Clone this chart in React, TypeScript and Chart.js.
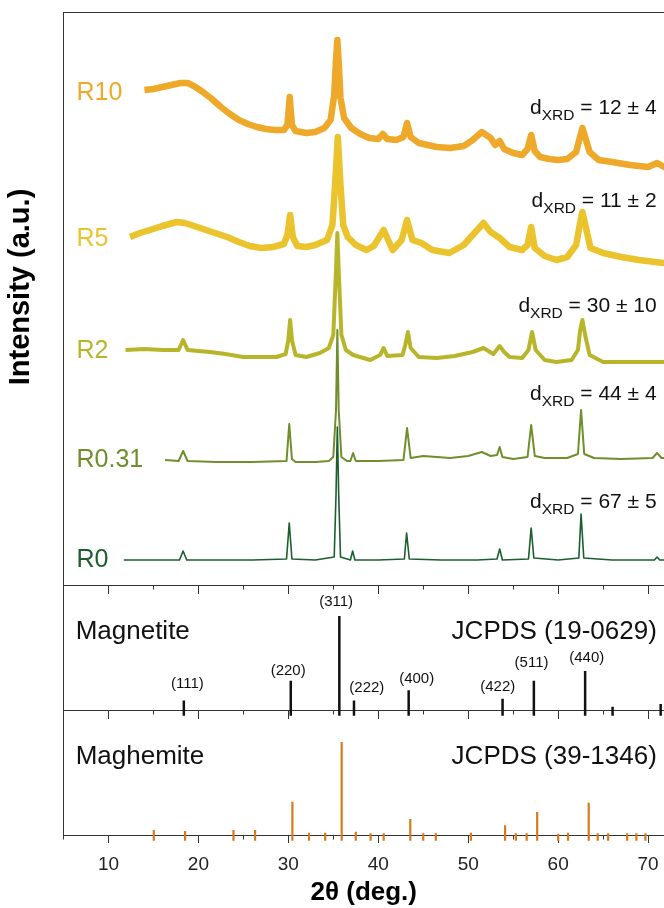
import React, { useEffect, useRef } from 'react';
import { Chart, registerables } from 'chart.js';

Chart.register(...registerables);

const FONT = "'Liberation Sans', Arial, Helvetica, sans-serif";

// ---------- XRD traces: [2θ (deg), intensity (a.u., vertical offset included)] ----------
const r10: [number, number][] = [
  [14.0, 495], [15.0, 496], [16.0, 498], [17.0, 500], [18.0, 502], [18.8, 502], [19.5, 499],
  [20.5, 493], [21.5, 486], [22.5, 478], [23.5, 471], [24.5, 465], [25.5, 461], [26.5, 458],
  [27.5, 456], [28.5, 455], [29.5, 455], [29.9, 460], [30.15, 488], [30.4, 460], [30.8, 454],
  [32.0, 452], [33.0, 453], [34.0, 457], [34.7, 465], [35.1, 490], [35.3, 525], [35.45, 545],
  [35.6, 523], [35.8, 487], [36.2, 467], [37.0, 457], [38.0, 451], [39.0, 447], [40.0, 446],
  [40.5, 451], [41.0, 446], [42.0, 445], [42.8, 448], [43.2, 462], [43.6, 448], [44.5, 442],
  [45.5, 440], [46.5, 438], [48.0, 437], [49.5, 439], [50.5, 445], [51.5, 453], [52.5, 447],
  [53.0, 440], [53.5, 444], [54.0, 436], [55.0, 432], [56.0, 430], [56.6, 436], [57.0, 450],
  [57.4, 434], [58.0, 428], [59.0, 426], [60.0, 425], [61.0, 426], [62.0, 433], [62.4, 447],
  [62.7, 457], [63.0, 448], [63.5, 433], [64.5, 425], [66.0, 423], [68.0, 420], [70.0, 418],
  [71.0, 422], [72.0, 417],
];
const r5: [number, number][] = [
  [12.4, 348], [13.5, 352], [14.6, 355], [16.0, 359], [17.6, 363], [18.5, 362], [20.2, 357],
  [21.5, 353], [23.2, 348], [24.5, 343], [25.7, 339], [27.0, 337], [28.3, 338], [29.5, 341],
  [29.9, 350], [30.2, 370], [30.5, 348], [31.0, 339], [32.0, 338], [33.0, 340], [34.3, 345],
  [34.9, 360], [35.2, 400], [35.5, 448], [35.8, 400], [36.1, 360], [36.6, 348], [37.5, 340],
  [38.7, 335], [39.5, 339], [40.6, 355], [41.6, 335], [42.6, 345], [43.2, 365], [43.8, 345],
  [44.8, 342], [46.0, 335], [47.9, 332], [49.5, 340], [50.5, 350], [51.7, 362], [52.5, 353],
  [53.5, 347], [54.6, 338], [56.0, 335], [56.6, 340], [57.0, 358], [57.4, 337], [58.5, 329],
  [59.8, 325], [61.0, 328], [62.0, 340], [62.4, 360], [62.7, 373], [63.1, 357], [63.6, 337],
  [65.0, 332], [67.0, 328], [69.0, 325], [71.7, 322], [72.0, 322],
];
const r2: [number, number][] = [
  [11.9, 235], [14.0, 236], [16.0, 235], [17.8, 235], [18.3, 245], [18.8, 235], [20.0, 234],
  [21.3, 233], [23.0, 231], [25.0, 228], [27.0, 228], [28.7, 228], [29.7, 231], [30.0, 245],
  [30.2, 265], [30.4, 245], [30.8, 230], [32.0, 228], [33.5, 232], [34.5, 237], [35.0, 250],
  [35.3, 315], [35.45, 352], [35.6, 315], [35.9, 250], [36.4, 235], [37.2, 230], [39.1, 225],
  [40.2, 230], [40.6, 237], [41.0, 229], [42.7, 230], [43.0, 240], [43.3, 253], [43.6, 237],
  [44.5, 228], [46.5, 227], [48.5, 229], [50.5, 233], [51.7, 237], [52.8, 231], [53.5, 239],
  [54.0, 233], [54.6, 228], [56.0, 227], [56.7, 235], [57.1, 253], [57.5, 235], [58.5, 225],
  [59.8, 223], [61.5, 225], [62.2, 235], [62.45, 255], [62.7, 265], [63.0, 250], [63.5, 230],
  [65.0, 223], [68.0, 223], [72.0, 223],
];
const r031: [number, number][] = [
  [16.3, 125], [17.8, 124], [18.3, 134], [18.8, 124], [22.0, 123], [26.0, 123], [29.8, 124],
  [30.1, 161], [30.4, 126], [30.8, 123], [33.0, 123], [34.5, 124], [35.0, 128], [35.3, 175],
  [35.45, 255], [35.6, 175], [35.9, 128], [36.5, 124], [36.9, 124], [37.2, 132], [37.5, 124],
  [40.0, 124], [42.8, 125], [43.2, 157], [43.6, 127], [45.0, 129], [48.0, 127], [50.0, 129],
  [51.5, 133], [52.5, 129], [53.2, 130], [53.5, 138], [53.8, 128], [55.0, 126], [56.6, 128],
  [57.0, 160], [57.4, 129], [58.5, 127], [61.0, 127], [62.2, 131], [62.55, 175], [62.9, 131],
  [64.0, 127], [67.0, 126], [70.5, 127], [71.0, 132], [71.5, 127], [72.0, 127],
];
const r0: [number, number][] = [
  [11.7, 25], [14.0, 25], [17.9, 25], [18.3, 34], [18.7, 25], [22.0, 25], [26.0, 25],
  [29.8, 26], [30.1, 62], [30.4, 26], [33.0, 25], [35.1, 28], [35.3, 90], [35.45, 158],
  [35.6, 90], [35.8, 28], [36.9, 25], [37.15, 34], [37.4, 25], [40.0, 25], [42.9, 26],
  [43.15, 52], [43.45, 26], [47.0, 25], [51.0, 25], [53.2, 26], [53.5, 36], [53.8, 25],
  [56.7, 26], [57.0, 57], [57.3, 27], [60.0, 25], [62.3, 27], [62.55, 71], [62.85, 27],
  [66.0, 25], [70.7, 25], [71.0, 28], [71.3, 25], [72.0, 25],
];

const sampleNames = ['R10', 'R5', 'R2', 'R0.31', 'R0'];
const sampleColors = ['#EEA92A', '#EAC32D', '#B8B52B', '#6F8E2C', '#1C5E2F'];
const sampleWidths = [6.5, 6.5, 4, 2, 1.6];
const dxrdValues = ['12 ± 4', '11 ± 2', '30 ± 10', '44 ± 4', '67 ± 5'];
const nameBaseline = [485, 339, 227, 118, 18];
const dxrdBaseline = [471, 378, 273, 185, 77];

// ---------- reference patterns ----------
const magnetitePos = [18.38, 30.27, 35.67, 37.3, 43.38, 53.82, 57.3, 63.0, 66.05, 71.4];
const magnetiteInt = [10, 31, 100, 10, 21, 12, 31, 41.5, 3.5, 6.4];
const millerText = ['(111)', '(220)', '(311)', '(222)', '(400)', '(422)', '(511)', '(440)'];
const millerX = [18.77, 29.98, 35.31, 38.73, 44.27, 53.28, 57.04, 63.18];
const millerY = [27.7, 41.8, 115.2, 23.1, 32.7, 24.8, 49.7, 55.6];

const maghemitePos = [15.04, 18.52, 23.9, 26.3, 30.45, 32.3, 34.1, 35.93, 37.5, 39.15, 40.6,
  43.56, 45.0, 46.4, 50.3, 54.1, 55.3, 56.5, 57.67, 60.0, 61.1, 63.4, 64.4, 65.56, 67.67,
  68.7, 69.7];
const maghemiteInt = [5.3, 4.3, 5.3, 5.3, 35.4, 2.5, 2.5, 99, 3.5, 1.8, 1.8, 17, 1.8, 1.8,
  2.5, 10.3, 1.8, 1.8, 24.5, 1.2, 2.5, 34.4, 1.8, 1.8, 1.8, 1.8, 1.8];

const X_MIN = 5;
const X_MAX = 71.77;
const TOP_MAX = 573;
const REF_MAX = 133;
const STICK_BASE = -6;
const AXIS_COLOR = '#333333';

function sticks(pos: number[], ints: number[]) {
  const pts: { x: number; y: number | null }[] = [];
  pos.forEach((p, i) => {
    pts.push({ x: p, y: STICK_BASE }, { x: p, y: ints[i] }, { x: p, y: null });
  });
  return pts;
}

const textPlugin = {
  id: 'xrdTexts',
  afterDatasetsDraw(chart: any) {
    const { ctx, scales, chartArea } = chart;
    const xs = scales.x;
    const yT = scales.yTop;
    const yM = scales.yMag;
    const yH = scales.yMagh;
    ctx.save();
    ctx.textBaseline = 'alphabetic';

    // sample names
    ctx.textAlign = 'left';
    ctx.font = `25px ${FONT}`;
    sampleNames.forEach((n, i) => {
      ctx.fillStyle = sampleColors[i];
      ctx.fillText(n, xs.getPixelForValue(6.45), yT.getPixelForValue(nameBaseline[i]));
    });

    // crystallite sizes
    const xr = xs.getPixelForValue(70.95);
    dxrdValues.forEach((v, i) => {
      const yb = yT.getPixelForValue(dxrdBaseline[i]);
      ctx.font = `21px ${FONT}`;
      const w1 = ctx.measureText('d').width;
      const w3 = ctx.measureText(' = ' + v).width;
      ctx.font = `15.5px ${FONT}`;
      const w2 = ctx.measureText('XRD').width;
      const x0 = xr - (w1 + w2 + w3);
      ctx.fillStyle = '#111111';
      ctx.font = `21px ${FONT}`;
      ctx.fillText('d', x0, yb);
      ctx.font = `15.5px ${FONT}`;
      ctx.fillText('XRD', x0 + w1, yb + 6);
      ctx.font = `21px ${FONT}`;
      ctx.fillText(' = ' + v, x0 + w1 + w2, yb);
    });

    // phase names
    ctx.fillStyle = '#111111';
    ctx.font = `26px ${FONT}`;
    ctx.textAlign = 'left';
    ctx.fillText('Magnetite', xs.getPixelForValue(6.35), yM.getPixelForValue(75.5));
    ctx.fillText('Maghemite', xs.getPixelForValue(6.35), yH.getPixelForValue(75.5));
    ctx.textAlign = 'right';
    ctx.fillText('JCPDS (19-0629)', xs.getPixelForValue(70.97), yM.getPixelForValue(75.5));
    ctx.fillText('JCPDS (39-1346)', xs.getPixelForValue(70.97), yH.getPixelForValue(75.5));

    // Miller indices
    ctx.font = `15px ${FONT}`;
    ctx.textAlign = 'center';
    ctx.textBaseline = 'middle';
    millerText.forEach((t, i) => {
      ctx.fillText(t, xs.getPixelForValue(millerX[i]), yM.getPixelForValue(millerY[i]));
    });

    // y-axis title
    ctx.save();
    ctx.translate(chartArea.left - 43, yT.getPixelForValue(298));
    ctx.rotate(-Math.PI / 2);
    ctx.fillStyle = '#000000';
    ctx.font = `bold 29px ${FONT}`;
    ctx.textAlign = 'center';
    ctx.textBaseline = 'middle';
    ctx.fillText('Intensity (a.u.)', 0, 0);
    ctx.restore();

    ctx.restore();
  },
};

function sepAxis(yId: string, value: number, step: number, len: number, border: boolean) {
  return {
    type: 'linear',
    axis: 'x',
    position: { [yId]: value },
    min: X_MIN,
    max: X_MAX,
    ticks: { display: false, stepSize: step, includeBounds: false, autoSkip: false },
    grid: {
      display: len > 0,
      drawOnChartArea: false,
      drawTicks: len > 0,
      tickLength: len,
      tickColor: AXIS_COLOR,
      tickWidth: 1,
    },
    border: { display: border, color: AXIS_COLOR, width: 1 },
  };
}

function panelY(max: number, weight: number) {
  return {
    type: 'linear',
    position: 'left',
    stack: 'panels',
    stackWeight: weight,
    min: 0,
    max,
    ticks: { display: false },
    grid: { display: true, drawOnChartArea: false, drawTicks: false },
    border: { display: true, color: AXIS_COLOR, width: 1 },
    title: { display: false },
  };
}

export default function App() {
  const ref = useRef<HTMLCanvasElement | null>(null);

  useEffect(() => {
    document.body.style.margin = '0';
    const canvas = ref.current;
    if (!canvas) return;

    const traces = [r10, r5, r2, r031, r0];
    const datasets: any[] = traces.map((t, i) => ({
      label: sampleNames[i],
      data: t.map(([x, y]) => ({ x, y })),
      borderColor: sampleColors[i],
      borderWidth: sampleWidths[i],
      pointRadius: 0,
      tension: 0,
      xAxisID: 'x',
      yAxisID: 'yTop',
      clip: false,
      borderJoinStyle: 'round',
    }));
    datasets.push({
      label: 'Magnetite',
      data: sticks(magnetitePos, magnetiteInt),
      borderColor: '#111111',
      borderWidth: 2.5,
      pointRadius: 0,
      spanGaps: false,
      xAxisID: 'x',
      yAxisID: 'yMag',
      clip: false,
      borderCapStyle: 'butt',
    });
    datasets.push({
      label: 'Maghemite',
      data: sticks(maghemitePos, maghemiteInt),
      borderColor: '#D9791C',
      borderWidth: 2.2,
      pointRadius: 0,
      spanGaps: false,
      xAxisID: 'x',
      yAxisID: 'yMagh',
      clip: false,
      borderCapStyle: 'butt',
    });

    Chart.defaults.font.family = FONT;

    const chart = new Chart(canvas, {
      type: 'line',
      data: { datasets },
      options: {
        responsive: false,
        devicePixelRatio: 1,
        animation: false,
        layout: { autoPadding: false, padding: { top: 12, left: 63.5, right: 0, bottom: 0 } },
        plugins: { legend: { display: false }, tooltip: { enabled: false } },
        scales: {
          yMagh: panelY(REF_MAX, 125),
          yMag: panelY(REF_MAX, 125),
          yTop: panelY(TOP_MAX, 573),
          x: {
            type: 'linear',
            position: 'bottom',
            min: X_MIN,
            max: X_MAX,
            ticks: {
              stepSize: 10,
              includeBounds: false,
              autoSkip: false,
              maxRotation: 0,
              padding: 5,
              color: '#222222',
              font: { family: FONT, size: 19, lineHeight: 34 / 19 },
            },
            grid: {
              display: true,
              drawOnChartArea: false,
              drawTicks: true,
              tickLength: 8,
              tickColor: AXIS_COLOR,
            },
            border: { display: true, color: AXIS_COLOR, width: 1 },
            title: {
              display: true,
              text: '2θ (deg.)',
              color: '#000000',
              font: { family: FONT, size: 26, weight: 'bold' },
              padding: { top: -9.6, bottom: -0.6 },
            },
          },
          xBotMinor: sepAxis('yMagh', 0, 5, 4.5, false),
          xMagMajor: sepAxis('yMag', 0, 10, 8, true),
          xMagMinor: sepAxis('yMag', 0, 5, 4.5, false),
          xTopMajor: sepAxis('yTop', 0, 10, 8, true),
          xTopMinor: sepAxis('yTop', 0, 5, 4.5, false),
          xFrameTop: sepAxis('yTop', TOP_MAX, 10, 0, true),
        } as any,
      },
      plugins: [textPlugin],
    } as any);

    return () => chart.destroy();
  }, []);

  return (
    <div style={{ position: 'fixed', left: 0, top: 0, width: 664, height: 908, background: '#fff' }}>
      <canvas ref={ref} width={664} height={908} style={{ display: 'block' }} />
    </div>
  );
}
